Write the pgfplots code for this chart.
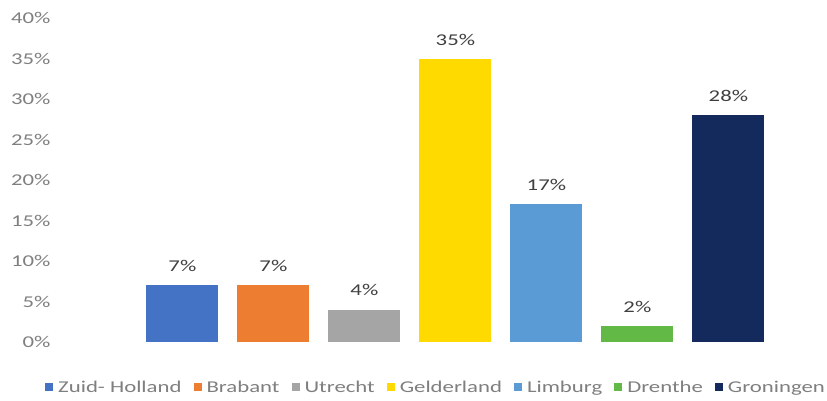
\documentclass[border=0pt]{standalone}
\usepackage{pgfplots}
\pgfplotsset{compat=1.18}
\usepackage{fontspec}
\setmainfont[FakeStretch=1.38]{Carlito}
\definecolor{c1}{HTML}{4472C4}
\definecolor{c2}{HTML}{ED7D31}
\definecolor{c3}{HTML}{A5A5A5}
\definecolor{c4}{HTML}{FFDA00}
\definecolor{c5}{HTML}{5B9BD5}
\definecolor{c6}{HTML}{62B945}
\definecolor{c7}{HTML}{152A5C}
\definecolor{tg}{HTML}{7F7F7F}
\definecolor{lg}{HTML}{404040}
\begin{document}
\begin{tikzpicture}
\useasboundingbox (0,0) rectangle (827bp,401bp);
\begin{axis}[
  at={(55bp,59bp)}, anchor=south west,
  scale only axis, width=718.9bp, height=323.6bp,
  xmin=-0.4, xmax=7.5, ymin=0, ymax=40,
  ytick={0,5,...,40}, xtick=\empty,
  yticklabel={\pgfmathprintnumber{\tick}\%},
  /pgf/number format/assume math mode=true,
  axis line style={draw=none}, major tick length=0pt,
  tick label style={font=\fontsize{16.5bp}{18bp}\selectfont, text=tg},
  yticklabel style={xshift=-1bp},
  ybar, bar width=72bp, bar shift=0pt,
  nodes near coords={\pgfmathprintnumber{\pgfplotspointmeta}\%},
  every node near coord/.append style={font=\fontsize{16.5bp}{18bp}\selectfont, text=lg, yshift=10bp},
  legend style={at={(0.53,-0.14)}, anchor=center, draw=none, legend columns=-1,
    font=\fontsize{16.5bp}{18bp}\selectfont, text=tg,
    /tikz/every odd column/.append style={column sep=3bp},
    /tikz/every even column/.append style={column sep=10bp},
    nodes={inner xsep=2bp}},
  legend image code/.code={\fill[#1,draw=none] (0bp,-4bp) rectangle (8bp,4bp);},
]
\addplot[fill=c1, draw=none] coordinates {(1,7)};
\addplot[fill=c2, draw=none] coordinates {(2,7)};
\addplot[fill=c3, draw=none] coordinates {(3,4)};
\addplot[fill=c4, draw=none] coordinates {(4,35)};
\addplot[fill=c5, draw=none] coordinates {(5,17)};
\addplot[fill=c6, draw=none] coordinates {(6,2)};
\addplot[fill=c7, draw=none] coordinates {(7,28)};
\legend{Zuid- Holland, Brabant, Utrecht, Gelderland, Limburg, Drenthe, Groningen}
\end{axis}
\end{tikzpicture}
\end{document}
